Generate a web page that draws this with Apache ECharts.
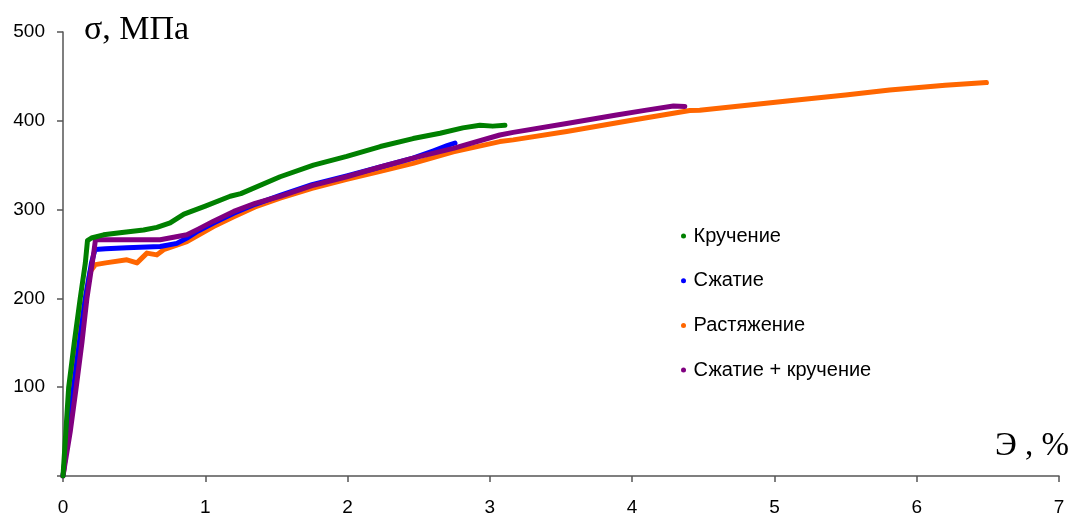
<!DOCTYPE html>
<html>
<head>
<meta charset="utf-8">
<script src="https://cdn.jsdelivr.net/npm/echarts@6/dist/echarts.min.js"></script>
<style>
  html, body { margin: 0; padding: 0; background: #fff; }
  #chart { width: 1077px; height: 521px; }
</style>
</head>
<body>
<div id="chart"></div>
<script>
// Series names (legend order)
const seriesNames = ['Кручение', 'Сжатие', 'Растяжение', 'Сжатие + кручение'];

// [strain %, stress MPa]
const torsion = [[0,0],[0.02,50],[0.04,100],[0.079,150],[0.121,200],[0.157,240],[0.172,265],[0.2,268],[0.285,271.6],[0.4,274],[0.566,277],[0.66,280],[0.753,285],[0.85,295],[1.0,304],[1.175,315],[1.25,318],[1.526,337],[1.76,350],[1.994,360],[2.23,371],[2.46,380],[2.65,386],[2.81,392],[2.93,395],[3.02,394],[3.106,395]];

const compression = [[0,0],[0.03,40],[0.075,100],[0.115,150],[0.157,200],[0.2,240],[0.225,255],[0.3,256],[0.449,257],[0.683,258.5],[0.8,262],[0.871,268],[0.95,276],[1.058,285],[1.2,296],[1.35,306],[1.526,316],[1.75,328],[1.994,338],[2.23,348],[2.46,358],[2.6,366],[2.7,372],[2.755,375]];

const tension = [[0,0],[0.01,12],[0.03,60],[0.051,100],[0.098,150],[0.157,200],[0.19,230],[0.227,238],[0.3,240],[0.449,243.5],[0.52,240],[0.59,251],[0.66,249],[0.707,254.8],[0.871,264],[1.058,281],[1.2,292],[1.35,303],[1.526,313],[1.75,324],[1.994,334],[2.23,343],[2.46,352],[2.743,365],[3.07,376.6],[3.164,378.5],[3.54,388],[4.007,401],[4.405,411.5],[4.475,412],[5.107,422.7],[5.5,429],[5.81,434.8],[6.2,440],[6.49,443]];

const compTorsion = [[0,0],[0.051,50],[0.093,100],[0.133,150],[0.168,200],[0.215,250],[0.228,266],[0.3,266],[0.449,266],[0.683,266],[0.871,271.6],[0.95,278],[1.058,287],[1.2,298],[1.35,307],[1.526,315],[1.75,327],[1.994,337],[2.23,348],[2.46,358],[2.743,369],[3.07,384],[3.164,387],[3.54,397],[3.89,406.6],[4.1,412],[4.29,416.7],[4.37,416]];

const colors = {
  'Кручение': '#008000',
  'Сжатие': '#0000ff',
  'Растяжение': '#ff6600',
  'Сжатие + кручение': '#800080'
};

function mkSeries(name, data) {
  return {
    name: name,
    type: 'line',
    data: data,
    showSymbol: false,
    symbol: 'circle',
    color: colors[name],
    lineStyle: { width: 5, color: colors[name], cap: 'round', join: 'round' },
    emphasis: { disabled: true }
  };
}

const chart = echarts.init(document.getElementById('chart'), null, { renderer: 'canvas' });
chart.setOption({
  animation: false,
  backgroundColor: '#fff',
  grid: { left: 63, right: 18, top: 32, bottom: 45, containLabel: false },
  legend: {
    data: seriesNames,
    orient: 'vertical',
    left: 676,
    top: 220,
    icon: 'circle',
    itemWidth: 10,
    itemHeight: 5,
    itemGap: 22.7,
    textStyle: { fontFamily: 'Liberation Sans', fontSize: 20, color: '#000', lineHeight: 22 }
  },
  xAxis: {
    type: 'value',
    min: 0, max: 7, interval: 1,
    splitLine: { show: false },
    axisLine: { show: true, onZero: false, lineStyle: { color: '#555', width: 1.5 } },
    axisTick: { show: true, length: 6, lineStyle: { color: '#555', width: 1.5 } },
    axisLabel: { margin: 22, fontFamily: 'Liberation Sans', fontSize: 19, color: '#000' }
  },
  yAxis: {
    type: 'value',
    min: 0, max: 500, interval: 100,
    splitLine: { show: false },
    axisLine: { show: true, lineStyle: { color: '#555', width: 1.5 } },
    axisTick: { show: true, length: 6, lineStyle: { color: '#555', width: 1.5 } },
    axisLabel: {
      margin: 18, fontFamily: 'Liberation Sans', fontSize: 19, color: '#000',
      formatter: function (v) { return v === 0 ? '' : String(v); }
    }
  },
  graphic: [
    { type: 'text', left: 84, top: 13, style: { text: 'σ, МПа', font: '34px "Liberation Serif"', fill: '#000' } },
    { type: 'text', left: 995, top: 430, style: { text: 'Э , %', font: '33px "Liberation Serif"', fill: '#000' } }
  ],
  series: [
    mkSeries('Растяжение', tension),
    mkSeries('Сжатие', compression),
    mkSeries('Сжатие + кручение', compTorsion),
    mkSeries('Кручение', torsion)
  ]
});
</script>
</body>
</html>
